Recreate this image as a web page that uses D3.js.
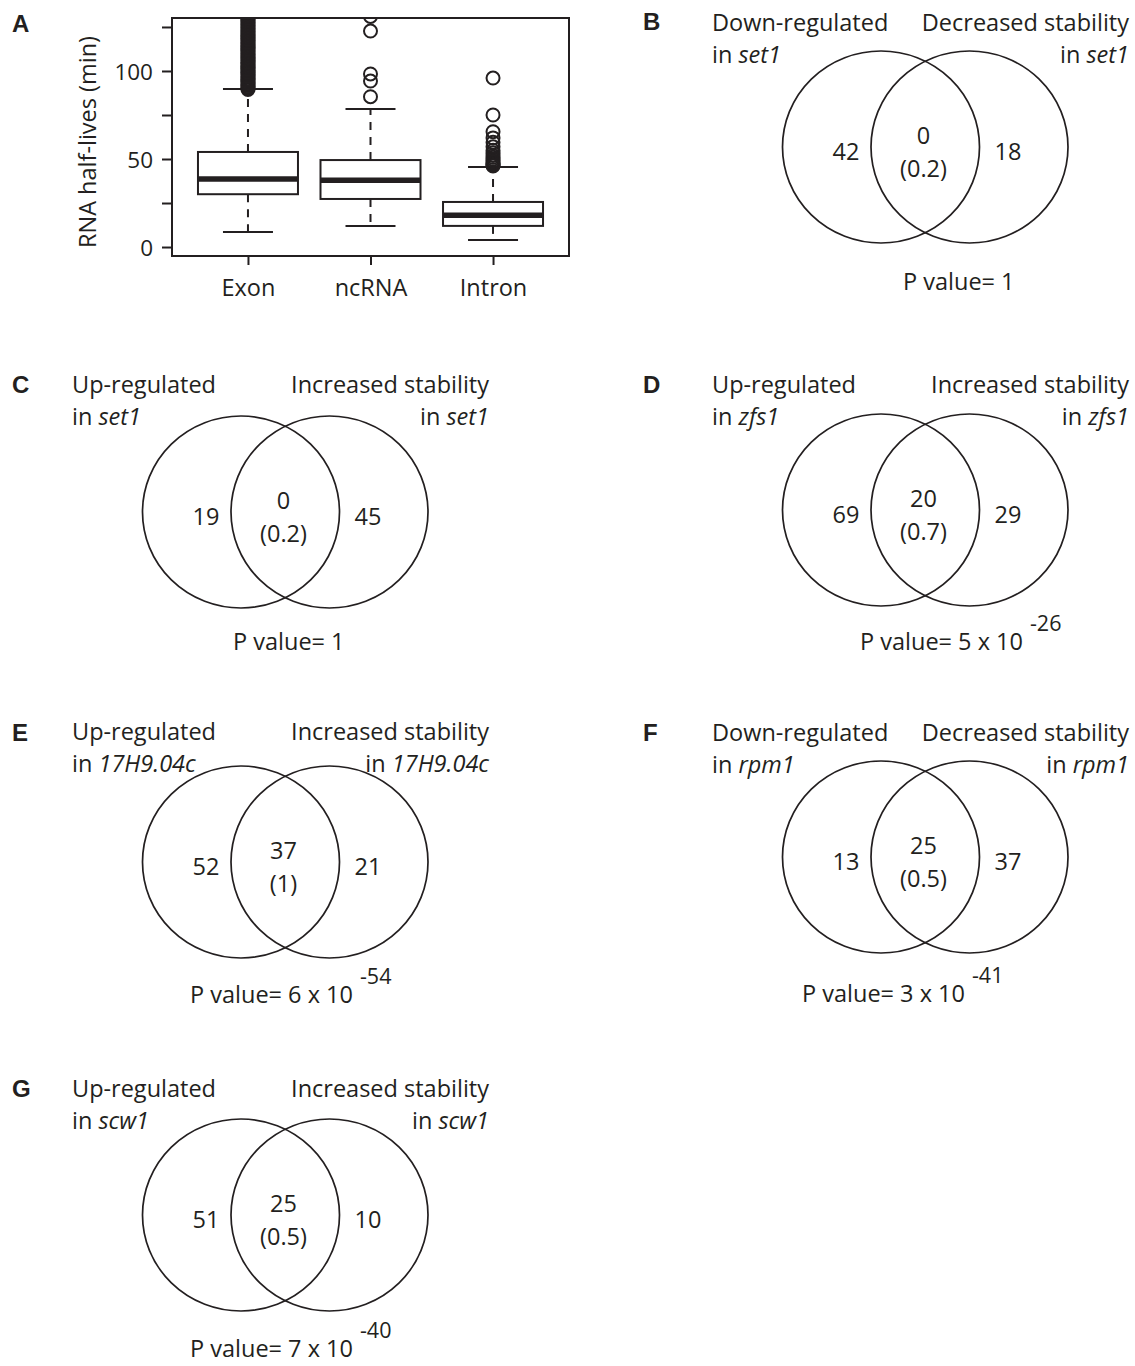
<!DOCTYPE html>
<html>
<head>
<meta charset="utf-8">
<script src="https://cdn.jsdelivr.net/npm/d3@7"></script>
<style>
  body { margin: 0; background: #fff; }
  svg { display: block; }
  text { font-family: "Open Sans", sans-serif; fill: #231f20; }
  .letter { font-family: "Liberation Sans", Arial, sans-serif; font-weight: bold; font-size: 24px; }
</style>
</head>
<body>
<svg id="fig" width="1135" height="1366"></svg>
<script>
// ---------- Panel A: RNA half-life distributions (box plots) ----------
const categories   = ["Exon", "ncRNA", "Intron"];
const whiskerLow   = [8.5, 12, 4];
const quartile1    = [30, 27.3, 12];
const medians      = [38.6, 38, 18];
const quartile3    = [54, 49.4, 25.6];
const whiskerHigh  = [89.8, 78.4, 45.4];
const exonOutliers = [89.5, 90.2, 91, 91.8, 92.5, 93.3, 94, 94.9, 95.6, 96.4, 97.1, 98, 98.8, 99.5,
                      100.3, 101.2, 102, 102.7, 103.6, 104.4, 105.1, 106, 106.8, 107.5, 108.4, 109.2,
                      110, 110.9, 111.6, 112.5, 113.3, 114, 114.9, 115.7, 116.5, 117.3, 118.1, 119,
                      119.8, 120.6, 121.5, 122.3, 123.1, 124, 124.8, 125.7, 126.5, 127.4, 128.2, 129.1,
                      130, 131, 132, 133.5, 135];
const ncrnaOutliers  = [85.4, 94.3, 98.3, 122.7, 131];
const intronOutliers = [96, 75, 65.5, 62, 59.5, 57, 55, 53.5, 52, 51, 50, 49, 48.2, 47.5, 47, 46.5, 46];
const yTicks      = [0, 25, 50, 75, 100, 125];
const yTickLabels = ["0", "", "50", "", "100", ""];
const yTitle = "RNA half-lives (min)";

// ---------- Panels B-G: overlaps between expression and stability changes ----------
const vennLetters     = ["B", "C", "D", "E", "F", "G"];
const leftSetTitles   = ["Down-regulated", "Up-regulated", "Up-regulated", "Up-regulated", "Down-regulated", "Up-regulated"];
const rightSetTitles  = ["Decreased stability", "Increased stability", "Increased stability", "Increased stability", "Decreased stability", "Increased stability"];
const mutants         = ["set1", "set1", "zfs1", "17H9.04c", "rpm1", "scw1"];
const leftOnly        = [42, 19, 69, 52, 13, 51];
const overlap         = [0, 0, 20, 37, 25, 25];
const expectedOverlap = ["0.2", "0.2", "0.7", "1", "0.5", "0.5"];
const rightOnly       = [18, 45, 29, 21, 37, 10];
const pMantissa       = ["1", "1", "5", "6", "3", "7"];
const pExponent       = [null, null, "-26", "-54", "-41", "-40"];

const svg = d3.select("#fig");
const ink = "#231f20";

// ----- Panel A drawing -----
const plot = { left: 172, right: 569, top: 18, bottom: 256 };
const x = d3.scalePoint().domain(categories).range([plot.left, plot.right]).padding(0.62);
const y = d3.scaleLinear().domain([-5.1, 130.1]).range([plot.bottom, plot.top]);

svg.append("text").attr("class", "letter").attr("x", 12).attr("y", 32).text("A");

svg.append("defs").append("clipPath").attr("id", "plotClip")
  .append("rect").attr("x", plot.left).attr("y", plot.top)
  .attr("width", plot.right - plot.left).attr("height", plot.bottom - plot.top);

const boxes = categories.map((c, i) => ({
  c, lo: whiskerLow[i], q1: quartile1[i], med: medians[i], q3: quartile3[i], hi: whiskerHigh[i]
}));
const outliers = [
  ...exonOutliers.map(v => ({ c: "Exon", v })),
  ...ncrnaOutliers.map(v => ({ c: "ncRNA", v })),
  ...intronOutliers.map(v => ({ c: "Intron", v }))
];

const gA = svg.append("g").attr("clip-path", "url(#plotClip)");
const boxHalf = 50, capHalf = 25;

// dashed whiskers
gA.selectAll(".whisk").data(boxes.flatMap(b => [[b.c, b.q3, b.hi], [b.c, b.q1, b.lo]]))
  .join("line")
  .attr("x1", d => x(d[0])).attr("x2", d => x(d[0]))
  .attr("y1", d => y(d[1])).attr("y2", d => y(d[2]))
  .attr("stroke", ink).attr("stroke-width", 2).attr("stroke-dasharray", "8,7");
// whisker caps
gA.selectAll(".cap").data(boxes.flatMap(b => [[b.c, b.hi], [b.c, b.lo]]))
  .join("line")
  .attr("x1", d => x(d[0]) - capHalf).attr("x2", d => x(d[0]) + capHalf)
  .attr("y1", d => y(d[1])).attr("y2", d => y(d[1]))
  .attr("stroke", ink).attr("stroke-width", 2);
// boxes
gA.selectAll(".box").data(boxes).join("rect")
  .attr("x", d => x(d.c) - boxHalf).attr("width", boxHalf * 2)
  .attr("y", d => y(d.q3)).attr("height", d => y(d.q1) - y(d.q3))
  .attr("fill", "#fff").attr("stroke", ink).attr("stroke-width", 2);
// medians
gA.selectAll(".med").data(boxes).join("line")
  .attr("x1", d => x(d.c) - boxHalf).attr("x2", d => x(d.c) + boxHalf)
  .attr("y1", d => y(d.med)).attr("y2", d => y(d.med))
  .attr("stroke", ink).attr("stroke-width", 5.5);
// outliers
gA.selectAll(".out").data(outliers).join("circle")
  .attr("cx", d => x(d.c)).attr("cy", d => y(d.v)).attr("r", 6.5)
  .attr("fill", "none").attr("stroke", ink).attr("stroke-width", 2);

// frame
svg.append("rect").attr("x", plot.left).attr("y", plot.top)
  .attr("width", plot.right - plot.left).attr("height", plot.bottom - plot.top)
  .attr("fill", "none").attr("stroke", ink).attr("stroke-width", 2);

// y axis
const yAxis = d3.axisLeft(y).tickValues(yTicks).tickSize(10).tickPadding(9)
  .tickFormat((d, i) => yTickLabels[i]);
const gy = svg.append("g").attr("transform", `translate(${plot.left},0)`).call(yAxis);
gy.select(".domain").remove();
gy.selectAll(".tick line").attr("stroke", ink).attr("stroke-width", 2);
gy.selectAll(".tick text").attr("font-family", "Open Sans, sans-serif").attr("font-size", 22.5)
  .attr("fill", ink).attr("dy", "0.36em");

// x axis
const xAxis = d3.axisBottom(x).tickSize(9).tickPadding(14);
const gx = svg.append("g").attr("transform", `translate(0,${plot.bottom})`).call(xAxis);
gx.select(".domain").remove();
gx.selectAll(".tick line").attr("stroke", ink).attr("stroke-width", 2);
gx.selectAll(".tick text").attr("font-family", "Open Sans, sans-serif").attr("font-size", 23.5)
  .attr("fill", ink).attr("dy", "0.71em");

svg.append("text")
  .attr("transform", `translate(96,${(plot.top + plot.bottom) / 2 + 5}) rotate(-90)`)
  .attr("text-anchor", "middle").attr("font-size", 23.5).text(yTitle);

// ----- Venn panels -----
const vennLayout = [
  { x0: 640, cy: 147,  ty: 31,   py: 290,  px: 263, ly: 30 },
  { x0: 0,   cy: 512,  ty: 393,  py: 650,  px: 233, ly: 393 },
  { x0: 640, cy: 510,  ty: 393,  py: 650,  px: 220, ly: 393 },
  { x0: 0,   cy: 862,  ty: 740,  py: 1003, px: 190, ly: 741 },
  { x0: 640, cy: 857,  ty: 741,  py: 1002, px: 162, ly: 741 },
  { x0: 0,   cy: 1215, ty: 1097, py: 1357, px: 190, ly: 1097 }
];
const circleCx = [241, 329.5];
const rx = 98.5, ry = 96;
const fs = 23.5;

vennLetters.forEach((letter, i) => {
  const L = vennLayout[i];
  const g = svg.append("g").attr("transform", `translate(${L.x0},0)`);
  const lx = L.x0 === 0 ? 12 : 3;
  g.append("text").attr("class", "letter").attr("x", lx).attr("y", L.ly).text(letter);

  // set titles
  const t1 = g.append("text").attr("font-size", fs).attr("x", 72).attr("y", L.ty);
  t1.append("tspan").text(leftSetTitles[i]);
  const t1b = g.append("text").attr("font-size", fs).attr("x", 72).attr("y", L.ty + 32);
  t1b.append("tspan").text("in ");
  t1b.append("tspan").attr("font-style", "italic").text(mutants[i]);

  const t2 = g.append("text").attr("font-size", fs).attr("x", 489).attr("y", L.ty).attr("text-anchor", "end");
  t2.text(rightSetTitles[i]);
  const t2b = g.append("text").attr("font-size", fs).attr("x", 489).attr("y", L.ty + 32).attr("text-anchor", "end");
  t2b.append("tspan").text("in ");
  t2b.append("tspan").attr("font-style", "italic").text(mutants[i]);

  // circles
  g.selectAll("ellipse").data(circleCx).join("ellipse")
    .attr("cx", d => d).attr("cy", L.cy).attr("rx", rx).attr("ry", ry)
    .attr("fill", "none").attr("stroke", ink).attr("stroke-width", 1.7);

  // counts
  g.append("text").attr("font-size", fs).attr("text-anchor", "middle")
    .attr("x", 206).attr("y", L.cy + 13).text(leftOnly[i]);
  g.append("text").attr("font-size", fs).attr("text-anchor", "middle")
    .attr("x", 368).attr("y", L.cy + 13).text(rightOnly[i]);
  g.append("text").attr("font-size", fs).attr("text-anchor", "middle")
    .attr("x", 283.5).attr("y", L.cy - 3).text(overlap[i]);
  g.append("text").attr("font-size", fs).attr("text-anchor", "middle")
    .attr("x", 283.5).attr("y", L.cy + 30).text(`(${expectedOverlap[i]})`);

  // p value
  const pt = g.append("text").attr("font-size", fs).attr("x", L.px).attr("y", L.py);
  if (pExponent[i]) {
    pt.append("tspan").text(`P value= ${pMantissa[i]} x 10`);
    pt.append("tspan").attr("font-size", 21.5).attr("dx", 7).attr("dy", -19).text(pExponent[i]);
  } else {
    pt.append("tspan").text(`P value= ${pMantissa[i]}`);
  }
});
</script>
</body>
</html>
